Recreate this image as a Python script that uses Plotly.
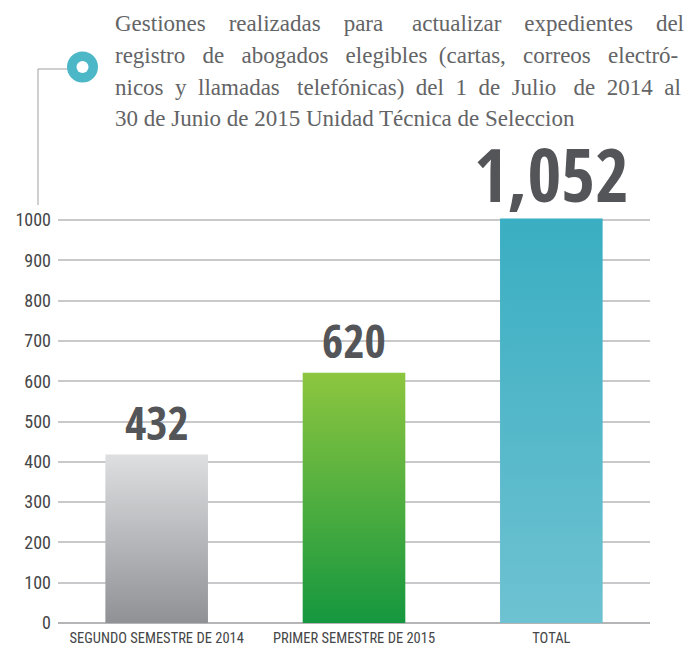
import plotly.graph_objects as go

# ---- data ----
categories = ["SEGUNDO SEMESTRE DE 2014", "PRIMER SEMESTRE DE 2015", "TOTAL"]
bar_heights = [418, 621, 1004]          # heights as drawn in the picture
value_labels = ["432", "620", "1,052"]
y_ticks = [0, 100, 200, 300, 400, 500, 600, 700, 800, 900, 1000]
title_lines = [
    "Gestiones realizadas para actualizar expedientes del",
    "registro de abogados elegibles (cartas, correos electró-",
    "nicos y llamadas telefónicas) del 1 de Julio de 2014 al",
    "30 de Junio de 2015 Unidad Técnica de Seleccion",
]

# ---- styles / layout (page pixels; the page body has an 8px margin) ----
W, H = 695, 650
OFF = 8
PL, PR, PT, PB = 58, 650, 216, 623            # plot area on the page
L, T = PL - OFF, PT - OFF
R, B = W - PR + OFF, H - PB + OFF
grad_top = ["#dedfe1", "#8dc63f", "#3aaec2"]
grad_bot = ["#909195", "#15973f", "#6ec2d1"]
label_sizes = [46, 46, 73]
label_shift = [0, 0, -7]
num_font = "Open Sans Condensed"
tick_font = "Roboto Condensed"
title_size = 23
title_natural_w = [476, 500, 496, 459]        # estimated rendered widths
title_justify = [True, True, True, False]
title_target_w = 566

def px_to_paper(px, py):
    return (px - PL) / (PR - PL), (PB - py) / (PB - PT)

def justify(line, natural, target, size):
    words = line.split(" ")
    gaps = len(words) - 1
    n = max(0, round((target - natural) / (0.25 * size)))
    out = words[0]
    for g in range(gaps):
        k = round((g + 1) * n / gaps) - round(g * n / gaps)
        out += " " + "\u00a0" * k + words[g + 1]
    return out

fig = go.Figure()
half = 0.26
for i, (cat, h) in enumerate(zip(categories, bar_heights)):
    xs = [i - half, i - half, i + half, i + half, i - half]
    ys = [0, h, h, 0, 0]
    fig.add_trace(go.Scatter(
        x=xs, y=ys, mode="lines", fill="toself", line=dict(width=0),
        fillgradient=dict(type="vertical",
                          colorscale=[[0, grad_bot[i]], [1, grad_top[i]]]),
        hoverinfo="skip", showlegend=False))
    fig.add_annotation(x=i, y=h, xref="x", yref="y", text=value_labels[i],
                       showarrow=False, yanchor="bottom", yshift=label_shift[i],
                       font=dict(family=num_font, size=label_sizes[i],
                                 color="#545558", weight="bold"))

# title
for j, line in enumerate(title_lines):
    txt = justify(line, title_natural_w[j], title_target_w, title_size) if title_justify[j] else line
    xp, yp = px_to_paper(113, 23 + 32 * j)
    fig.add_annotation(x=xp, y=yp, xref="paper", yref="paper", text=txt,
                       showarrow=False, xanchor="left", yanchor="middle",
                       font=dict(family="Liberation Serif", size=title_size, color="#636466"))

# connector + icon
x0, y0 = px_to_paper(38, 69)
x1, y1 = px_to_paper(70, 69)
x2, y2 = px_to_paper(38, 205)
fig.add_shape(type="line", xref="paper", yref="paper", x0=x0, y0=y0, x1=x1, y1=y1,
              line=dict(color="#a0a0a2", width=1))
fig.add_shape(type="line", xref="paper", yref="paper", x0=x0, y0=y0, x1=x2, y1=y2,
              line=dict(color="#a0a0a2", width=1))
cx0, cy0 = px_to_paper(67, 51.5)
cx1, cy1 = px_to_paper(98, 82.5)
fig.add_shape(type="circle", xref="paper", yref="paper", x0=cx0, y0=cy1, x1=cx1, y1=cy0,
              fillcolor="#4cb7c7", line=dict(width=0))
ix0, iy0 = px_to_paper(76.5, 61)
ix1, iy1 = px_to_paper(88.5, 73)
fig.add_shape(type="circle", xref="paper", yref="paper", x0=ix0, y0=iy1, x1=ix1, y1=iy0,
              fillcolor="white", line=dict(width=0))

fig.update_layout(
    width=W, height=H, margin=dict(l=L, r=R, t=T, b=B, autoexpand=False),
    plot_bgcolor="white", paper_bgcolor="white",
    xaxis=dict(range=[-0.5, 2.5], tickvals=list(range(len(categories))),
               ticktext=categories, showgrid=False, zeroline=False,
               showline=False, ticks="", tickangle=0, automargin=False,
               ticklabelstandoff=4,
               tickfont=dict(family=tick_font, size=14.5, color="#454648", weight=400)),
    yaxis=dict(range=[0, 1010], tickvals=y_ticks, showgrid=True,
               gridcolor="#c9c9cb", gridwidth=1.5, zeroline=True,
               zerolinecolor="#b5b5b7", zerolinewidth=2, showline=False,
               ticks="", ticklabelstandoff=6, automargin=False,
               tickfont=dict(family=tick_font, size=18, color="#454648", weight=400)),
)
fig.write_html("out.html")
